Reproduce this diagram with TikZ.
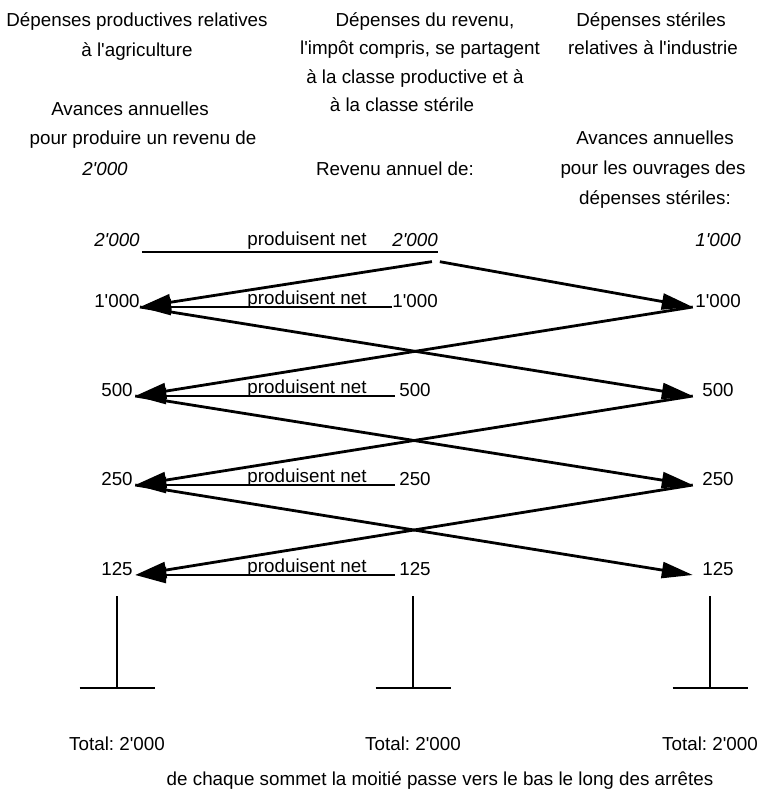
\documentclass[tikz,border=0pt]{standalone}
\usepackage{fontspec}
\setmainfont{Liberation Sans}[Ligatures=TeXOff]
\usetikzlibrary{arrows.meta}
\frenchspacing

\tikzstyle{head_text}=[inner sep=0pt, anchor=base]
\tikzstyle{amount}=[inner sep=0pt, anchor=base]
\tikzstyle{amount_left}=[amount, minimum width=36pt]
\tikzstyle{amount_mid}=[amount, minimum width=40pt]
\tikzstyle{amount_right}=[amount, minimum width=50pt]
\tikzstyle{flow}=[line width=2.8pt, -{Triangle[length=31pt, width=16pt]}]
\tikzstyle{stem}=[line width=2.5pt]

\begin{document}
\begin{tikzpicture}[x=1pt, y=-1pt, font=\fontsize{18.8}{22}\selectfont]
    \useasboundingbox (0,0) rectangle (761,791);

    % column headings
    \node at (137, 27) (HeadP1) [head_text] {Dépenses productives relatives};
    \node at (137, 57) (HeadP2) [head_text] {à l'agriculture};
    \node at (130, 116) (AvP1) [head_text] {Avances annuelles};
    \node at (143, 145) (AvP2) [head_text] {pour produire un revenu de};
    \node at (105, 176) (AvP3) [head_text] {\itshape 2'000};

    \node at (425, 27) (HeadR1) [head_text] {Dépenses du revenu,};
    \node at (420, 55) (HeadR2) [head_text] {l'impôt compris, se partagent};
    \node at (415, 84) (HeadR3) [head_text] {à la classe productive et à};
    \node at (402, 112) (HeadR4) [head_text] {à la classe stérile};
    \node at (395, 176) (AvR1) [head_text] {Revenu annuel de:};

    \node at (651, 27) (HeadS1) [head_text] {Dépenses stériles};
    \node at (653, 55) (HeadS2) [head_text] {relatives à l'industrie};
    \node at (655, 145) (AvS1) [head_text] {Avances annuelles};
    \node at (653, 175) (AvS2) [head_text] {pour les ouvrages des};
    \node at (655, 205) (AvS3) [head_text] {dépenses stériles:};

    % first row
    \node at (117, 247) (L0) [amount_left] {\itshape 2'000};
    \node at (415, 247) (M0) [amount_mid] {\itshape 2'000};
    \node at (718, 247) (R0) [amount_right] {\itshape 1'000};
    \node at (307, 246) (P0) [amount] {produisent net};
    \draw[stem] ([xshift=2pt, yshift=-5pt]L0.base east) -- ([yshift=-5pt]M0.base east);
    \coordinate (split) at ([xshift=-2pt, yshift=-14pt]M0.base east);

    % rows
    \foreach \r/\v/\y in {1/1'000/307, 2/500/396, 3/250/485, 4/125/575} {
        \node at (117, \y) (L\r) [amount_left] {\v};
        \node at (415, \y) (M\r) [amount_mid] {\v};
        \node at (718, \y) (R\r) [amount_right] {\v};
        \node at (307, \y - 3) (P\r) [amount] {produisent net};
    }

    \draw[flow, shorten <=4pt] (split) -- (L1.base east);
    \draw[flow, shorten <=4pt] (split) -- (R1.base west);

    \foreach \r [count=\n from 2] in {1,2,3} {
        \draw[flow] (L\r.base east) -- (R\n.base west);
        \draw[flow] (R\r.base west) -- (L\n.base east);
    }
    \foreach \r in {1,...,4} {
        \draw[flow] (M\r.base west) -- (L\r.base east);
    }

    % totals
    \foreach \c/\x in {1/117, 2/413, 3/710} {
        \node at (\x, 750) (Tot\c) [amount] {Total: 2'000};
        \draw[stem] (\x, 596) -- (\x, 688);
        \draw[stem] (\x - 37.5, 688) -- (\x + 37.5, 688);
    }

    \node at (440, 785) (Note) [amount] {de chaque sommet la moitié passe vers le bas le long des arrêtes};
\end{tikzpicture}
\end{document}
